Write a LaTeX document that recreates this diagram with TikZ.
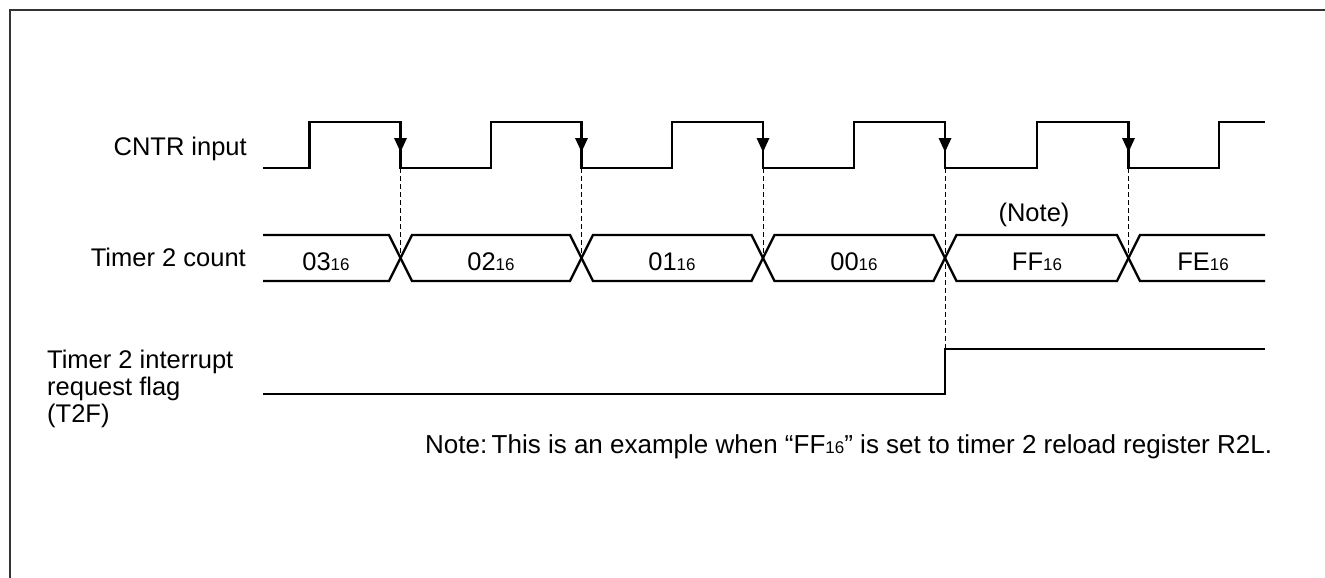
\documentclass[tikz,border=0pt]{standalone}
\usepackage{fontspec}
\setmainfont{Liberation Sans}
\newcommand{\hexs}[1]{{\fontsize{17}{17}\selectfont #1}}
\begin{document}
\begin{tikzpicture}[x=1pt,y=-1pt,
  wave/.style={line width=2.4pt,line cap=butt,line join=miter},
  guide/.style={line width=0.9pt,dash pattern=on 5pt off 3pt},
  lbl/.style={font=\fontsize{25.5}{27.3}\selectfont,inner sep=0pt},
  frame/.style={line width=2pt,draw=black!80}]
\useasboundingbox (0,0) rectangle (1325,578);
\fill[white] (0,0) rectangle (1325,578);
% frame
\coordinate (ftl) at (9.5,10.5);
\coordinate (ftr) at (1326,10.5);
\coordinate (fbl) at (9.5,579);
\draw[frame] (ftr) -- (ftl) -- (fbl);
% labels
\node[lbl,anchor=base east] (lcntr) at (247,155) {CNTR input};
\node[lbl,anchor=base east] (lcount) at (246,266.5) {Timer 2 count};
\node[lbl,anchor=north west,align=left] (lflag) at (47,349.5) {Timer 2 interrupt\\request flag\\(T2F)};
% CNTR waveform
\def\hi{122}\def\lo{168}
\draw[wave] (263,\lo) -- (309.5,\lo) -- (309.5,\hi) -- (400.5,\hi) -- (400.5,\lo)
  -- (491,\lo) -- (491,\hi) -- (581.5,\hi) -- (581.5,\lo)
  -- (672,\lo) -- (672,\hi) -- (763,\hi) -- (763,\lo)
  -- (854,\lo) -- (854,\hi) -- (945,\hi) -- (945,\lo)
  -- (1037,\lo) -- (1037,\hi) -- (1128.5,\hi) -- (1128.5,\lo)
  -- (1219,\lo) -- (1219,\hi) -- (1265,\hi);
\foreach \x in {400.5,581.5,763,945,1128.5}{
  \fill (\x-6.5,138) -- (\x+6.5,138) -- (\x,152) -- cycle;
}
% dashed guides
\foreach \x in {400.5,581.5,763,1128.5}{
  \draw[guide] (\x,\lo) -- (\x,258);
}
\draw[guide] (945,\lo) -- (945,349);
% count bus
\def\ct{235}\def\cb{281}\def\w{11.5}
\draw[wave] (263,\ct) -- (400.5-\w,\ct) -- (400.5+\w,\cb) -- (581.5-\w,\cb) -- (581.5+\w,\ct)
  -- (763-\w,\ct) -- (763+\w,\cb) -- (945-\w,\cb) -- (945+\w,\ct) -- (1128.5-\w,\ct) -- (1128.5+\w,\cb) -- (1265,\cb);
\draw[wave] (263,\cb) -- (400.5-\w,\cb) -- (400.5+\w,\ct) -- (581.5-\w,\ct) -- (581.5+\w,\cb)
  -- (763-\w,\cb) -- (763+\w,\ct) -- (945-\w,\ct) -- (945+\w,\cb) -- (1128.5-\w,\cb) -- (1128.5+\w,\ct) -- (1265,\ct);
\node[lbl,anchor=base] (v03) at (326,270.5) {03\hexs{16}};
\node[lbl,anchor=base] (v02) at (491,270.5) {02\hexs{16}};
\node[lbl,anchor=base] (v01) at (672,270.5) {01\hexs{16}};
\node[lbl,anchor=base] (v00) at (854,270.5) {00\hexs{16}};
\node[lbl,anchor=base] (vff) at (1037,270.5) {FF\hexs{16}};
\node[lbl,anchor=base] (vfe) at (1203,270.5) {FE\hexs{16}};
\node[lbl,anchor=base] (note1) at (1034,221) {(Note)};
% flag
\draw[wave] (263,394) -- (945,394) -- (945,349) -- (1265,349);
% note
\node[lbl,font=\fontsize{26}{28}\selectfont,anchor=base west] (note2) at (425,453) {Note:\,This is an example when “FF\hexs{16}” is set to timer 2 reload register R2L.};
\end{tikzpicture}
\end{document}
